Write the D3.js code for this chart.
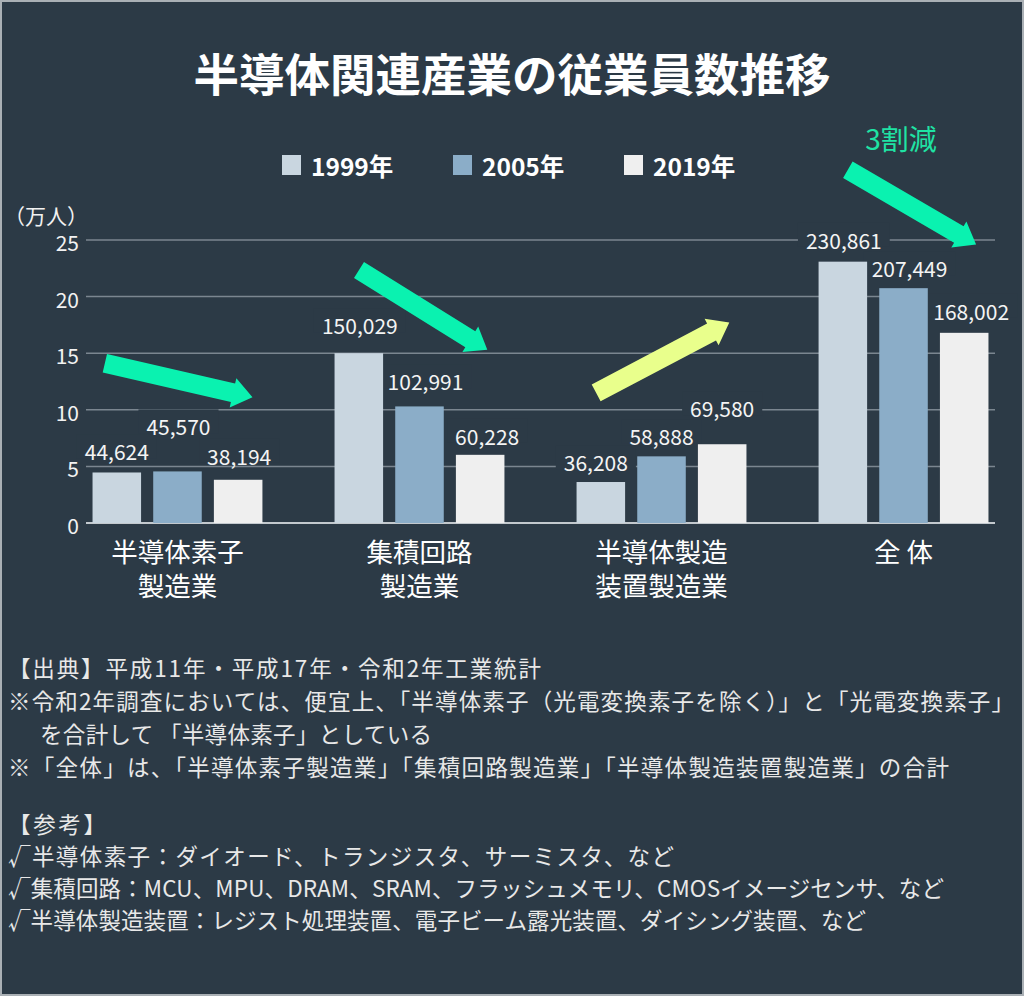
<!DOCTYPE html>
<html>
<head>
<meta charset="utf-8">
<title>半導体関連産業の従業員数推移</title>
<script src="https://cdn.jsdelivr.net/npm/d3@7"></script>
<style>
  html, body { margin: 0; padding: 0; background: #2c3a46; }
  svg { display: block; }
  text { font-family: "Noto Sans CJK JP", "Noto Sans", sans-serif; }
</style>
</head>
<body>
<script>

// data (人)
var categories = ["半導体素子製造業", "集積回路製造業", "半導体製造装置製造業", "全体"];
var catLines = [["半導体素子", "製造業"], ["集積回路", "製造業"], ["半導体製造", "装置製造業"], ["全 体"]];
var years = ["1999年", "2005年", "2019年"];
var values1999 = [44624, 150029, 36208, 230861];
var values2005 = [45570, 102991, 58888, 207449];
var values2019 = [38194, 60228, 69580, 168002];
var yTicks = [0, 5, 10, 15, 20, 25];

var notes1 = [
  "【出典】平成11年・平成17年・令和2年工業統計",
  "※令和2年調査においては、便宜上、「半導体素子（光電変換素子を除く）」と「光電変換素子」",
  "を合計して 「半導体素子」としている",
  "※「全体」は、「半導体素子製造業」「集積回路製造業」「半導体製造装置製造業」の合計"
];
var notes2 = [
  "【参考】",
  "√半導体素子：ダイオード、トランジスタ、サーミスタ、など",
  "√集積回路：MCU、MPU、DRAM、SRAM、フラッシュメモリ、CMOSイメージセンサ、など",
  "√半導体製造装置：レジスト処理装置、電子ビーム露光装置、ダイシング装置、など"
];

// 矢印の位置（x: カテゴリ番号, y: 万人）
var arrows = [
  { from: [-0.30, 14.1], to: [0.31, 11.1], color: "#0af2b0" },
  { from: [0.75, 22.35], to: [1.28, 15.3], color: "#0af2b0" },
  { from: [1.73, 11.5], to: [2.28, 17.7], color: "#e9ff8c" },
  { from: [2.77, 31.2], to: [3.30, 24.6], color: "#0af2b0" }
];
var noteText = { text: "3割減", at: [2.99, 34.0] };

// ラベルの位置調整（重ならないように）
var labelLift = [[21, 45, 24], [28, 25, 19], [20, 20, 36], [22, 20, 22]];
var labelDx = [[0, 1, 1], [1, 6, 7], [-5, 0, 0], [1, 6, 7]];

// 注記の行の幅
var notes1X = [8, 8, 40, 8];
var notes1W = [533, 1006, 392, 941];
var notes2W = [98, 666, 936, 858];

var width = 1024, height = 996;
var bg = "#2c3a46";
var colors = ["#c9d6e0", "#8badc8", "#efefef"];

var svg = d3.select("body").append("svg")
  .attr("width", width)
  .attr("height", height);

svg.append("rect")
  .attr("x", 1).attr("y", 1)
  .attr("width", width - 2).attr("height", height - 2)
  .attr("fill", bg)
  .attr("stroke", "#aab0b5")
  .attr("stroke-width", 2);

// タイトル
svg.append("text")
  .attr("x", 512).attr("y", 72)
  .attr("text-anchor", "middle")
  .attr("dominant-baseline", "central")
  .attr("fill", "#ffffff")
  .attr("font-size", 45.5)
  .attr("font-weight", "bold")
  .text("半導体関連産業の従業員数推移");

// 凡例
var legend = svg.selectAll(".legend")
  .data(years)
  .enter().append("g")
  .attr("class", "legend")
  .attr("transform", function(d, i) { return "translate(" + (282 + i * 171) + ",165)"; });
legend.append("rect")
  .attr("x", 0).attr("y", -10)
  .attr("width", 19).attr("height", 20)
  .attr("fill", function(d, i) { return colors[i]; });
legend.append("text")
  .attr("x", 29).attr("y", 0)
  .attr("dominant-baseline", "central")
  .attr("fill", "#ffffff")
  .attr("font-size", 24.5)
  .attr("font-weight", "bold")
  .text(function(d) { return d; });

// スケール
var x0 = d3.scaleBand()
  .domain(categories)
  .range([86, 995])
  .paddingInner(0.298)
  .paddingOuter(0.027);
var x1 = d3.scaleBand()
  .domain(years)
  .range([0, x0.bandwidth()])
  .paddingInner(0.2);
var y = d3.scaleLinear()
  .domain([0, 25])
  .range([523, 240]);

// カテゴリ番号（小数可）を x 座標へ
function xAt(i) {
  return x0(categories[0]) + x0.bandwidth() / 2 + i * x0.step();
}

// 目盛り線
svg.selectAll(".grid")
  .data(yTicks)
  .enter().append("line")
  .attr("x1", 86).attr("x2", 995)
  .attr("y1", function(d) { return y(d); })
  .attr("y2", function(d) { return y(d); })
  .attr("stroke", function(d) { return d === 0 ? "#c3c9ce" : "#7b8690"; })
  .attr("stroke-width", function(d) { return d === 0 ? 2 : 1.5; });

svg.selectAll(".ytick")
  .data(yTicks)
  .enter().append("text")
  .attr("x", 79)
  .attr("y", function(d) { return y(d) + 2; })
  .attr("text-anchor", "end")
  .attr("dominant-baseline", "central")
  .attr("fill", "#f2f2f2")
  .attr("font-size", 21)
  .text(function(d) { return d; });

svg.append("text")
  .attr("x", 4).attr("y", 215)
  .attr("dominant-baseline", "central")
  .attr("fill", "#f2f2f2")
  .attr("font-size", 21)
  .text("（万人）");

// 棒グラフ用データ
var series = [values1999, values2005, values2019];
var cells = [];
categories.forEach(function(c, gi) {
  years.forEach(function(yr, si) {
    cells.push({ cat: c, gi: gi, year: yr, si: si, value: series[si][gi] });
  });
});
function cx(d) { return x0(d.cat) + x1(d.year) + x1.bandwidth() / 2; }
function labelX(d) { return cx(d) + labelDx[d.gi][d.si]; }
function labelY(d) { return y(d.value / 10000) - labelLift[d.gi][d.si]; }

// ラベルの背景（目盛り線を隠す）→ 棒 → 数値
var labelG = svg.append("g");
var barG = svg.append("g");
var textG = svg.append("g");

barG.selectAll("rect")
  .data(cells)
  .enter().append("rect")
  .attr("x", function(d) { return x0(d.cat) + x1(d.year); })
  .attr("y", function(d) { return y(d.value / 10000); })
  .attr("width", x1.bandwidth())
  .attr("height", function(d) { return y(0) - y(d.value / 10000); })
  .attr("fill", function(d) { return colors[d.si]; });

var fmt = d3.format(",");
var labels = textG.selectAll("text")
  .data(cells)
  .enter().append("text")
  .attr("x", labelX)
  .attr("y", labelY)
  .attr("text-anchor", "middle")
  .attr("dominant-baseline", "central")
  .attr("fill", "#f4f4f4")
  .attr("font-size", 21)
  .text(function(d) { return fmt(d.value); });

labels.each(function(d) {
  var w = this.getComputedTextLength();
  labelG.append("rect")
    .attr("x", labelX(d) - w / 2 - 8)
    .attr("y", labelY(d) - 17)
    .attr("width", w + 16)
    .attr("height", 24)
    .attr("fill", bg);
});

// カテゴリ名
var catG = svg.selectAll(".cat")
  .data(categories)
  .enter().append("text")
  .attr("class", "cat")
  .attr("text-anchor", "middle")
  .attr("fill", "#ffffff")
  .attr("font-size", 26.5);
catG.selectAll("tspan")
  .data(function(d, i) { return catLines[i].map(function(t) { return { t: t, c: d }; }); })
  .enter().append("tspan")
  .attr("x", function(d) { return x0(d.c) + x0.bandwidth() / 2; })
  .attr("y", function(d, i) { return 550 + i * 34; })
  .attr("dominant-baseline", "central")
  .text(function(d) { return d.t; });

// 矢印
function arrowPath(a) {
  var p0 = [xAt(a.from[0]), y(a.from[1])];
  var p1 = [xAt(a.to[0]), y(a.to[1])];
  var dx = p1[0] - p0[0], dy = p1[1] - p0[1];
  var len = Math.sqrt(dx * dx + dy * dy);
  var ux = dx / len, uy = dy / len;
  var nx = -uy, ny = ux;
  var w = 9.5, hw = 15, hl = 20;
  var b = [p1[0] - ux * hl, p1[1] - uy * hl];
  var pts = [
    [p0[0] + nx * w, p0[1] + ny * w],
    [b[0] + nx * w, b[1] + ny * w],
    [b[0] + nx * hw, b[1] + ny * hw],
    p1,
    [b[0] - nx * hw, b[1] - ny * hw],
    [b[0] - nx * w, b[1] - ny * w],
    [p0[0] - nx * w, p0[1] - ny * w]
  ];
  return "M" + pts.map(function(p) { return p[0].toFixed(1) + "," + p[1].toFixed(1); }).join("L") + "Z";
}
svg.selectAll(".arrow")
  .data(arrows)
  .enter().append("path")
  .attr("d", arrowPath)
  .attr("fill", function(d) { return d.color; });

svg.append("text")
  .attr("x", xAt(noteText.at[0]))
  .attr("y", y(noteText.at[1]))
  .attr("text-anchor", "middle")
  .attr("dominant-baseline", "central")
  .attr("fill", "#1fe3a4")
  .attr("font-size", 28)
  .text(noteText.text);

// 注記
svg.selectAll(".note1")
  .data(notes1)
  .enter().append("text")
  .attr("x", function(d, i) { return notes1X[i]; })
  .attr("y", function(d, i) { return 667 + i * 33; })
  .attr("dominant-baseline", "central")
  .attr("fill", "#e8e8e8")
  .attr("font-size", 22.5)
  .attr("textLength", function(d, i) { return notes1W[i]; })
  .attr("lengthAdjust", "spacing")
  .text(function(d) { return d; });

svg.selectAll(".note2")
  .data(notes2)
  .enter().append("text")
  .attr("x", 8)
  .attr("y", function(d, i) { return 823 + i * 32; })
  .attr("dominant-baseline", "central")
  .attr("fill", "#e8e8e8")
  .attr("font-size", 22.5)
  .attr("textLength", function(d, i) { return notes2W[i]; })
  .attr("lengthAdjust", "spacing")
  .text(function(d) { return d; });

</script>
</body>
</html>
